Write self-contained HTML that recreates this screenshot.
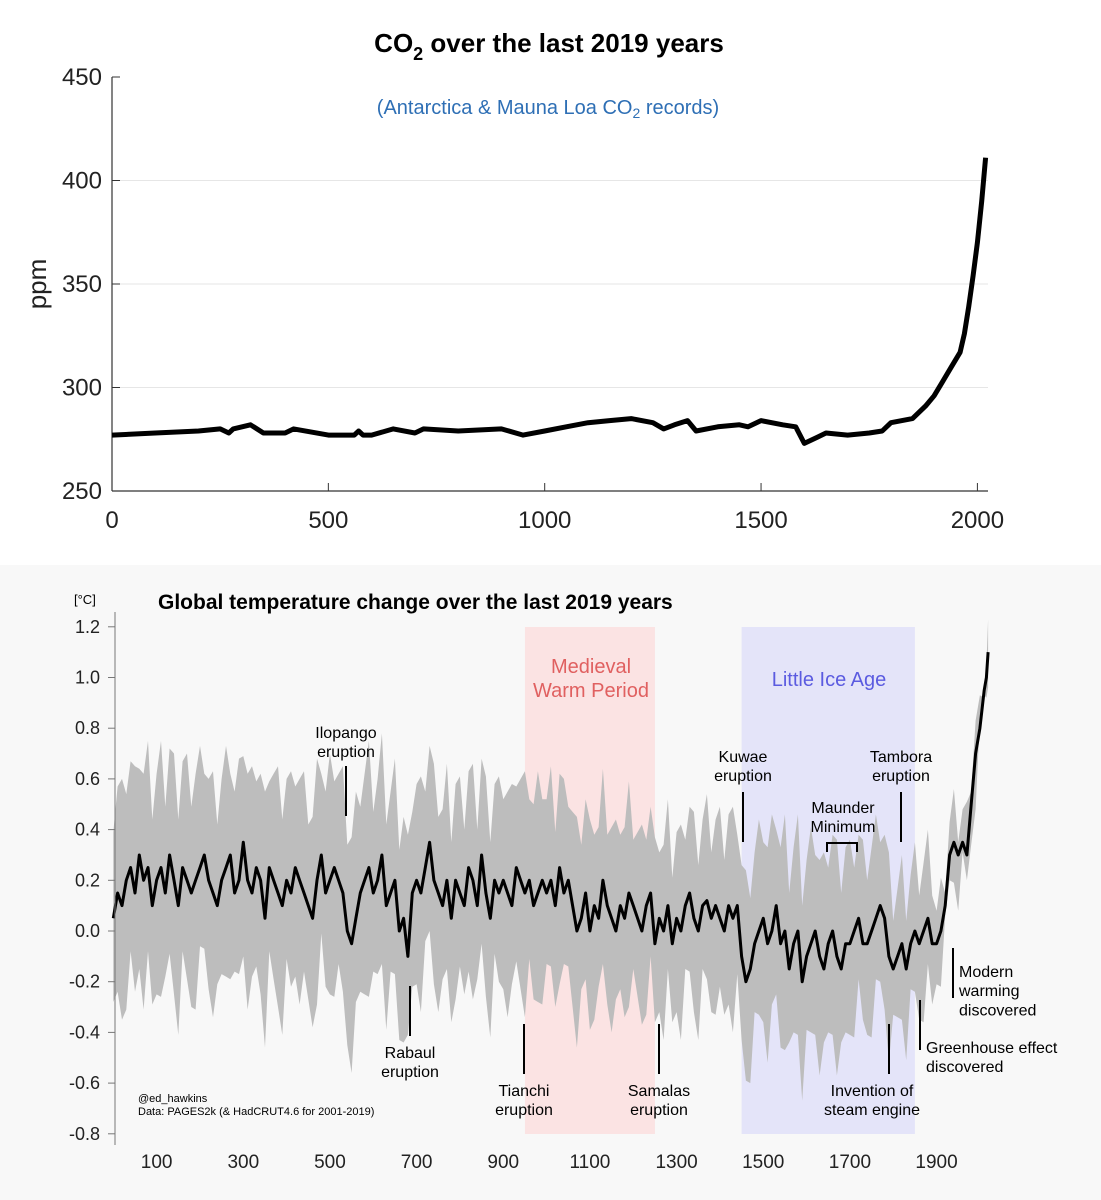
<!DOCTYPE html>
<html><head><meta charset="utf-8"><style>
body{margin:0;background:#fff;font-family:"Liberation Sans",sans-serif}
svg{display:block}
</style></head><body>
<svg id="s" width="1101" height="1200" xmlns="http://www.w3.org/2000/svg" font-family="Liberation Sans, sans-serif">
<rect x="0" y="0" width="1101" height="565" fill="#fff"/>
<rect x="0" y="565" width="1101" height="635" fill="#f8f8f8"/>
<g id="topchart"></g>
<g id="botchart"></g>
</svg>
<script>
// ---------- CO2 data ----------
const co2Years=[0,100,200,250,270,280,320,350,400,420,500,560,570,580,600,650,700,720,800,900,950,1000,1050,1100,1150,1200,1250,1275,1300,1330,1350,1400,1450,1470,1500,1550,1580,1600,1630,1650,1700,1750,1780,1800,1850,1880,1900,1920,1940,1960,1970,1980,1990,2000,2010,2019];
const co2Ppm=[277,278,279,280,278,280,282,278,278,280,277,277,279,277,277,280,278,280,279,280,277,279,281,283,284,285,283,280,282,284,279,281,282,281,284,282,281,273,276,278,277,278,279,283,285,291,296,303,310,317,326,339,354,370,390,411];
const co2YTicks=[250,300,350,400,450];
const co2XTicks=[0,500,1000,1500,2000];
// ---------- Temperature data (decadal, 0..2010 then 2015, 2019) ----------
const tempYears=[];for(let y=0;y<=2010;y+=10)tempYears.push(y);tempYears.push(2015,2019);
const tempVals=[
0.05,0.15,0.1,0.2,0.25,0.15,0.3,0.2,0.25,0.1,
0.2,0.25,0.15,0.3,0.2,0.1,0.25,0.2,0.15,0.2,
0.25,0.3,0.2,0.15,0.1,0.2,0.25,0.3,0.15,0.2,
0.35,0.2,0.15,0.25,0.2,0.05,0.25,0.2,0.15,0.1,
0.2,0.15,0.25,0.2,0.15,0.1,0.05,0.2,0.3,0.15,
0.2,0.25,0.2,0.15,0.0,-0.05,0.05,0.15,0.2,0.25,
0.15,0.2,0.3,0.1,0.15,0.2,0.0,0.05,-0.1,0.15,
0.2,0.15,0.25,0.35,0.2,0.15,0.1,0.2,0.05,0.2,
0.15,0.1,0.25,0.2,0.1,0.3,0.15,0.05,0.2,0.15,
0.2,0.15,0.1,0.25,0.2,0.15,0.2,0.1,0.15,0.2,
0.15,0.2,0.1,0.25,0.15,0.2,0.1,0.0,0.05,0.15,
0.0,0.1,0.05,0.2,0.1,0.05,0.0,0.1,0.05,0.15,
0.1,0.05,0.0,0.1,0.15,-0.05,0.05,0.0,0.1,-0.05,
0.05,0.0,0.1,0.15,0.05,0.0,0.1,0.12,0.05,0.1,
0.05,0.0,0.1,0.05,0.1,-0.1,-0.2,-0.15,-0.05,0.0,
0.05,-0.05,0.0,0.1,-0.05,0.0,-0.15,-0.05,0.0,-0.2,
-0.1,-0.05,0.0,-0.1,-0.15,-0.05,0.0,-0.1,-0.15,-0.05,
-0.05,0.0,0.05,-0.05,-0.05,0.0,0.05,0.1,0.05,-0.1,
-0.15,-0.1,-0.05,-0.15,-0.05,0.0,-0.05,0.0,0.05,-0.05,
-0.05,0.0,0.1,0.3,0.35,0.3,0.35,0.3,0.5,0.7,0.8,0.95,1.0,1.1];
const tempUncCentury=[0.42,0.42,0.4,0.42,0.4,0.42,0.4,0.38,0.38,0.4,0.37,0.36,0.34,0.34,0.36,0.38,0.38,0.33,0.27,0.13,0.05];
const tempYTicks=[-0.8,-0.6,-0.4,-0.2,0.0,0.2,0.4,0.6,0.8,1.0,1.2];
const tempXTicks=[100,300,500,700,900,1100,1300,1500,1700,1900];
const NS="http://www.w3.org/2000/svg";
function mk(tag,attrs,parent,text){const e=document.createElementNS(NS,tag);for(const k in attrs)e.setAttribute(k,attrs[k]);if(text!==undefined)e.textContent=text;parent.appendChild(e);return e;}
// ---------- Top chart ----------
const topG=document.getElementById('topchart');
const cx=y=>112+y*0.4327, cy=v=>491-(v-250)*2.07;
co2YTicks.forEach(t=>{
 if(t>250&&t<450){const l=mk('line',{x1:112,x2:988,y1:cy(t),y2:cy(t),stroke:'#e6e6e6','stroke-width':1},topG);}
 const tx=mk('text',{x:102,y:cy(t)+8,'text-anchor':'end','font-size':24,fill:'#222'},topG,String(t));
 mk('line',{x1:112,x2:120,y1:cy(t),y2:cy(t),stroke:'#333'},topG);
});
co2XTicks.forEach(t=>{
 const tx=mk('text',{x:cx(t),y:528,'text-anchor':'middle','font-size':24,fill:'#222'},topG,String(t));
 mk('line',{x1:cx(t),x2:cx(t),y1:491,y2:483,stroke:'#333'},topG);
});
mk('line',{x1:112,x2:112,y1:77,y2:491,stroke:'#333','stroke-width':1.2},topG);
mk('line',{x1:112,x2:988,y1:491,y2:491,stroke:'#333','stroke-width':1.2},topG);
let d=co2Years.map((y,i)=>(i?'L':'M')+cx(y).toFixed(1)+','+cy(co2Ppm[i]).toFixed(1)).join('');
const cl=mk('path',{d:d,fill:'none',stroke:'#000','stroke-width':5,'stroke-linejoin':'round'},topG);

const t1=mk('text',{x:549,y:52,'text-anchor':'middle','font-size':26,'font-weight':'bold'},topG);

mk('tspan',{},t1,'CO');mk('tspan',{'font-size':18,dy:8},t1,'2');mk('tspan',{dy:-8},t1,' over the last 2019 years');
const t2=mk('text',{x:548,y:114,'text-anchor':'middle','font-size':20,fill:'#2e6fb5'},topG);

mk('tspan',{},t2,'(Antarctica & Mauna Loa CO');mk('tspan',{'font-size':14,dy:4},t2,'2');mk('tspan',{dy:-4},t2,' records)');
const yl=mk('text',{x:0,y:0,transform:'translate(46,284) rotate(-90)','text-anchor':'middle','font-size':26,fill:'#222'},topG,'ppm');

// ---------- Bottom chart ----------
const botG=document.getElementById('botchart');
const tx_=y=>113.3+y*0.4333, ty=v=>931-v*253.5;
const r1=mk('rect',{x:tx_(950),y:627,width:tx_(1250)-tx_(950),height:507,fill:'#fbe3e3'},botG);
const r2=mk('rect',{x:tx_(1450),y:627,width:tx_(1850)-tx_(1450),height:507,fill:'#e4e4f9'},botG);
const unc=y=>tempUncCentury[Math.min(20,Math.floor(y/100))];
let up=tempYears.map((y,i)=>tx_(y).toFixed(1)+','+ty(tempVals[i]+unc(y)+((i%3)-1)*0.08).toFixed(1));
let lo=tempYears.map((y,i)=>tx_(y).toFixed(1)+','+ty(tempVals[i]-unc(y)-((i%4)-1.5)*0.06).toFixed(1)).reverse();
const band=mk('polygon',{points:up.concat(lo).join(' '),fill:'#bdbdbd'},botG);
d=tempYears.map((y,i)=>(i?'L':'M')+tx_(y).toFixed(1)+','+ty(tempVals[i]).toFixed(1)).join('');
const tl=mk('path',{d:d,fill:'none',stroke:'#000','stroke-width':3,'stroke-linejoin':'round'},botG);
mk('line',{x1:115,x2:115,y1:612,y2:1145,stroke:'#777'},botG);
tempYTicks.forEach(t=>{
 mk('line',{x1:108,x2:115,y1:ty(t),y2:ty(t),stroke:'#777'},botG);
 const e=mk('text',{x:100,y:ty(t)+6,'text-anchor':'end','font-size':18,fill:'#222'},botG,t.toFixed(1));
});
tempXTicks.forEach(t=>{
 const e=mk('text',{x:tx_(t),y:1168,'text-anchor':'middle','font-size':19,fill:'#222'},botG,String(t));
});
const tt=mk('text',{x:158,y:609,'font-size':21,'font-weight':'bold'},botG,'Global temperature change over the last 2019 years');
const un=mk('text',{x:74,y:604,'font-size':13},botG,'[°C]');
function lbl(lines,x,y,size,fill,name,anchor){const e=mk('text',{x:x,y:y,'text-anchor':anchor||'middle','font-size':size,fill:fill},botG);lines.forEach((s,i)=>mk('tspan',{x:x,dy:i?size*1.2:0},e,s));}
function tick(x,y1,y2){mk('line',{x1:x,x2:x,y1:y1,y2:y2,stroke:'#000','stroke-width':2},botG);}
lbl(['Medieval','Warm Period'],591,673,20,'#e06060','mwp-label');
lbl(['Little Ice Age'],829,686,20,'#5b5be0','lia-label');
lbl(['Ilopango','eruption'],346,738,16,'#000','ilopango-label');tick(346,766,816);
lbl(['Rabaul','eruption'],410,1058,16,'#000','rabaul-label');tick(410,986,1036);
lbl(['Tianchi','eruption'],524,1096,16,'#000','tianchi-label');tick(524,1024,1074);
lbl(['Samalas','eruption'],659,1096,16,'#000','samalas-label');tick(659,1024,1074);
lbl(['Kuwae','eruption'],743,762,16,'#000','kuwae-label');tick(743,792,842);
lbl(['Tambora','eruption'],901,762,16,'#000','tambora-label');tick(901,792,842);
lbl(['Maunder','Minimum'],843,813,16,'#000','maunder-label');
mk('path',{d:'M827,852 V843 H857 V852',fill:'none',stroke:'#000','stroke-width':2},botG);
lbl(['Invention of','steam engine'],872,1096,16,'#000','steam-engine-label');tick(889,1024,1074);
lbl(['Greenhouse effect','discovered'],926,1053,16,'#000','greenhouse-label','start');tick(920,1000,1050);
lbl(['Modern','warming','discovered'],959,977,16,'#000','modern-warming-label','start');tick(953,948,998);
lbl(['@ed_hawkins','Data: PAGES2k (& HadCRUT4.6 for 2001-2019)'],138,1102,11,'#000','credits','start');
</script>
</body></html>
